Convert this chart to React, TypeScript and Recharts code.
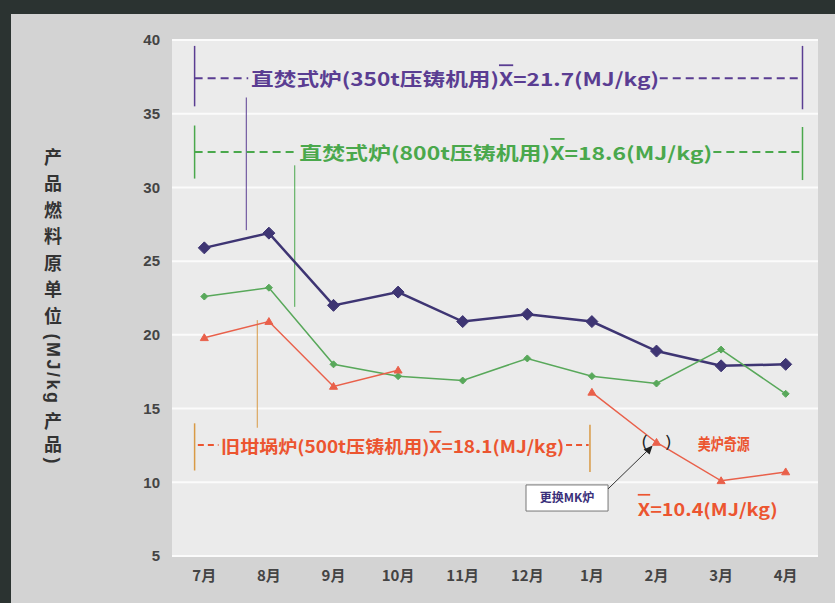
import React from 'react';
import {
  LineChart,
  Line,
  XAxis,
  YAxis,
  CartesianGrid,
  ReferenceLine,
  ReferenceDot,
  ReferenceArea,
} from 'recharts';

const months = ['7月', '8月', '9月', '10月', '11月', '12月', '1月', '2月', '3月', '4月'];
const purpleValues = [25.9, 26.9, 22.0, 22.9, 20.9, 21.4, 20.9, 18.9, 17.9, 18.0];
const greenValues = [22.6, 23.2, 18.0, 17.2, 16.9, 18.4, 17.2, 16.7, 19.0, 16.0];
const redValues: (number | null)[] = [19.8, 20.9, 16.5, 17.6, null, null, 16.1, 12.7, 10.1, 10.7];
const yTicks = [5, 10, 15, 20, 25, 30, 35, 40];
const monthIndex = months.map((_, i) => i);

const purpleLabel = ['直焚式炉(350t压铸机用)', 'X', '=21.7(MJ/kg)'];
const greenLabel = ['直焚式炉(800t压铸机用)', 'X', '=18.6(MJ/kg)'];
const redLabel = ['旧坩埚炉(500t压铸机用)', 'X', '=18.1(MJ/kg)'];
const redNote = ['美炉奇源'];
const redMean = ['', 'X', '=10.4(MJ/kg)'];
const boxLabel = '更换MK炉';
const yLabelParts = ['产品燃料原单位', '(MJ/kg', '产品', ')'];

const data = months.map((m, i) => ({
  idx: monthIndex[i],
  month: m,
  purple: purpleValues[i],
  green: greenValues[i],
  red: redValues[i],
}));

const PURPLE = '#3e3573';
const PURPLE_T = '#5a3d92';
const GREEN_T = '#4aa84c';
const GREEN = '#58a85a';
const RED = '#e9604a';
const RED_T = '#ec5530';
const ORANGE = '#d99a45';
const FONT = '"Liberation Sans", "Noto Sans CJK SC", sans-serif';
const CJK = '"Noto Sans CJK SC", "Liberation Sans", sans-serif';

const diamond = (color: string, r: number) => (props: any) => {
  const { cx, cy } = props;
  if (cx == null || cy == null || isNaN(cx) || isNaN(cy)) return <g />;
  return (
    <polygon
      points={`${cx},${cy - r} ${cx + r},${cy} ${cx},${cy + r} ${cx - r},${cy}`}
      fill={color}
      stroke={color}
    />
  );
};

const triangle = (color: string, r: number) => (props: any) => {
  const { cx, cy } = props;
  if (cx == null || cy == null || isNaN(cx) || isNaN(cy)) return <g />;
  return (
    <polygon
      points={`${cx},${cy - r} ${cx + r},${cy + r * 0.7} ${cx - r},${cy + r * 0.7}`}
      fill={color}
      stroke={color}
    />
  );
};

const textShape =
  (parts: string[], color: string, size: number, anchor: string, len?: number, weight = 700) =>
  (props: any) => {
    const { cx, cy } = props;
    return (
      <text
        x={cx}
        y={cy}
        fill={color}
        fontSize={size}
        fontWeight={weight}
        fontFamily={CJK}
        textAnchor={anchor as any}
        dominantBaseline="central"
        style={{ whiteSpace: 'pre' }}
        {...(len ? { textLength: len, lengthAdjust: 'spacingAndGlyphs' } : {})}
      >
        {parts.map((p, i) =>
          i === 1 ? (
            <tspan key={i} style={{ textDecoration: 'overline' }}>
              {p}
            </tspan>
          ) : (
            <tspan key={i}>{p}</tspan>
          )
        )}
      </text>
    );
  };

const arrowHead = (props: any) => {
  const { cx, cy } = props;
  return <polygon points={`${cx},${cy} ${cx - 9},${cy + 4} ${cx - 3},${cy + 9}`} fill="#222" />;
};

const seg = (x1: number, y1: number, x2: number, y2: number) => [
  { x: x1, y: y1 },
  { x: x2, y: y2 },
];

export default function App() {
  return (
    <div
      style={{
        position: 'absolute',
        left: 0,
        top: 0,
        width: 835,
        height: 603,
        background: '#2b3331',
        overflow: 'hidden',
      }}
    >
      <div
        style={{
          position: 'absolute',
          left: 11,
          top: 14,
          right: 0,
          bottom: 0,
          background: '#d3d3d3',
        }}
      />
      <div
        style={{
          position: 'absolute',
          left: 44,
          top: 148,
          writingMode: 'vertical-rl',
          textOrientation: 'mixed',
          fontFamily: CJK,
          fontWeight: 700,
          fontSize: 18,
          color: '#333',
          lineHeight: 1,
          whiteSpace: 'nowrap',
        }}
      >
        <span style={{ letterSpacing: 8.5 }}>{yLabelParts[0]}</span>
        <span style={{ letterSpacing: 2.5, fontFamily: FONT }}>{yLabelParts[1]}</span>
        <span style={{ letterSpacing: 5, marginTop: 6 }}>{yLabelParts[2]}</span>
        <span style={{ fontFamily: FONT }}>{yLabelParts[3]}</span>
      </div>
      <div style={{ position: 'absolute', left: 0, top: 0 }}>
        <LineChart
          width={835}
          height={603}
          data={data}
          margin={{ top: 40, right: 17, bottom: 0, left: 112 }}
        >
          <CartesianGrid
            vertical={false}
            fill="#ebebeb"
            stroke="#fbfbfb"
            strokeWidth={2}
            horizontalValues={yTicks}
          />
          <XAxis
            dataKey="idx"
            type="number"
            domain={[-0.5, 9.5]}
            ticks={monthIndex}
            tickFormatter={(v: number) => months[v]}
            axisLine={false}
            tickLine={false}
            tickSize={0}
            tickMargin={14}
            height={47}
            interval={0}
            tick={{ fill: '#444', fontSize: 15, fontWeight: 700, fontFamily: CJK }}
          />
          <YAxis
            type="number"
            domain={[5, 40]}
            ticks={yTicks}
            axisLine={false}
            tickLine={false}
            tickSize={0}
            tickMargin={12}
            width={60}
            interval={0}
            tick={{ fill: '#444', fontSize: 15, fontWeight: 700, fontFamily: FONT }}
          />

          {/* purple annotation */}
          <ReferenceLine segment={seg(-0.15, 39.6, -0.15, 35.5)} stroke={PURPLE_T} strokeWidth={1.5} />
          <ReferenceLine segment={seg(9.26, 39.6, 9.26, 35.3)} stroke={PURPLE_T} strokeWidth={1.5} />
          <ReferenceLine segment={seg(-0.15, 37.4, 0.68, 37.4)} stroke={PURPLE_T} strokeWidth={2} strokeDasharray="8 5" />
          <ReferenceLine segment={seg(7.05, 37.4, 9.26, 37.4)} stroke={PURPLE_T} strokeWidth={2} strokeDasharray="8 5" />
          <ReferenceLine segment={seg(0.65, 36.1, 0.65, 27.1)} stroke={PURPLE_T} strokeWidth={1} />
          <ReferenceDot x={0.725} y={37.4} r={0} shape={textShape(purpleLabel, PURPLE_T, 18, 'start', 408)} />

          {/* green annotation */}
          <ReferenceLine segment={seg(-0.15, 34.2, -0.15, 30.6)} stroke={GREEN_T} strokeWidth={1.5} />
          <ReferenceLine segment={seg(9.26, 34.1, 9.26, 30.5)} stroke={GREEN_T} strokeWidth={1.5} />
          <ReferenceLine segment={seg(-0.15, 32.4, 1.44, 32.4)} stroke={GREEN_T} strokeWidth={2} strokeDasharray="8 5" />
          <ReferenceLine segment={seg(7.88, 32.4, 9.26, 32.4)} stroke={GREEN_T} strokeWidth={2} strokeDasharray="8 5" />
          <ReferenceLine segment={seg(1.4, 31.5, 1.4, 21.9)} stroke={GREEN_T} strokeWidth={1} />
          <ReferenceDot x={1.47} y={32.4} r={0} shape={textShape(greenLabel, GREEN_T, 18, 'start', 413)} />

          {/* red annotation */}
          <ReferenceLine segment={seg(-0.15, 14.0, -0.15, 10.8)} stroke={ORANGE} strokeWidth={1.5} />
          <ReferenceLine segment={seg(5.97, 13.9, 5.97, 10.7)} stroke={ORANGE} strokeWidth={1.5} />
          <ReferenceLine segment={seg(-0.1, 12.53, 0.22, 12.53)} stroke={RED_T} strokeWidth={2} strokeDasharray="6 4" />
          <ReferenceLine segment={seg(5.6, 12.53, 5.95, 12.53)} stroke={RED_T} strokeWidth={2} strokeDasharray="6 4" />
          <ReferenceLine segment={seg(0.82, 21.0, 0.82, 13.7)} stroke={ORANGE} strokeWidth={1} />
          <ReferenceDot x={0.26} y={12.53} r={0} shape={textShape(redLabel, RED_T, 17, 'start', 343)} />

          {/* replacement note */}
          <ReferenceArea
            x1={4.98}
            x2={6.25}
            y1={8.05}
            y2={9.82}
            fill="#ffffff"
            fillOpacity={1}
            stroke="#777"
            strokeWidth={1}
            label={{ value: boxLabel, position: 'center', fill: '#3a2f7a', fontSize: 12, fontWeight: 700, fontFamily: CJK }}
          />
          <ReferenceLine segment={seg(6.25, 9.55, 6.92, 12.4)} stroke="#333" strokeWidth={1} />
          <ReferenceDot x={6.94} y={12.5} r={0} shape={arrowHead} />
          <ReferenceDot x={7.0} y={12.9} r={0} shape={textShape(['(\u00a0\u00a0\u00a0\u00a0)'], '#222', 15, 'middle', 31, 400)} />
          <ReferenceDot x={8.04} y={12.67} r={0} shape={textShape(redNote, RED_T, 16, 'middle', 52)} />
          <ReferenceDot x={6.71} y={8.26} r={0} shape={textShape(redMean, RED_T, 17, 'start', 140)} />

          <Line dataKey="purple" stroke={PURPLE} strokeWidth={2.5} dot={diamond(PURPLE, 6)} isAnimationActive={false} />
          <Line dataKey="green" stroke={GREEN} strokeWidth={1.5} dot={diamond(GREEN, 3.5)} isAnimationActive={false} />
          <Line
            dataKey="red"
            stroke={RED}
            strokeWidth={1.5}
            dot={triangle(RED, 4)}
            connectNulls={false}
            isAnimationActive={false}
          />
        </LineChart>
      </div>
    </div>
  );
}
